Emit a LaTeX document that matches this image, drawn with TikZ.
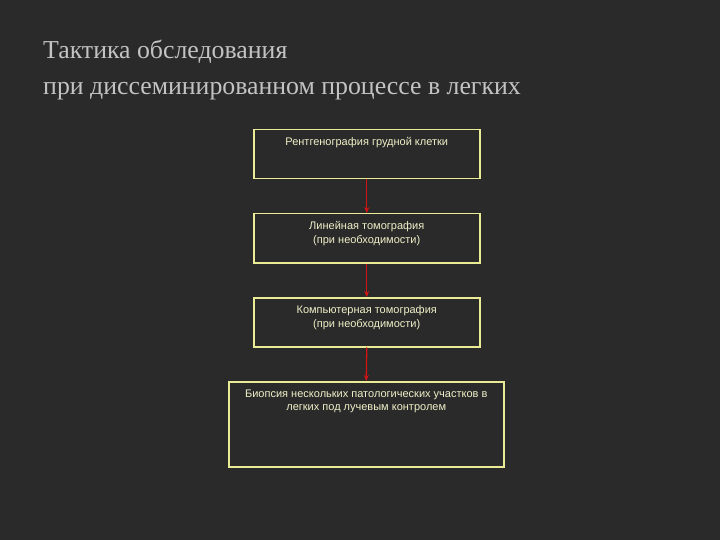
\documentclass[tikz,border=0pt]{standalone}
\usepackage{fontspec}
\setmainfont{Liberation Serif}
\newfontfamily\boxfont{Liberation Sans}
\usetikzlibrary{arrows.meta}
\definecolor{bg}{RGB}{42,42,42}
\definecolor{bord}{RGB}{235,235,150}
\definecolor{btxt}{RGB}{240,240,200}
\definecolor{ttl}{RGB}{195,195,195}
\definecolor{arrc}{RGB}{210,20,20}
\begin{document}
\begin{tikzpicture}[x=1pt,y=-1pt,
  stepbox/.style={draw=bord,line width=1.5pt,minimum height=#1,anchor=north west,inner sep=0pt},
  boxtxt/.style={font=\boxfont\fontsize{11}{13.5}\selectfont,text=btxt,align=center,anchor=north},
  arr/.style={draw=arrc,line width=1.3pt,-{Stealth[length=6pt,width=5pt]}}]
\fill[bg] (0,0) rectangle (720,540);
\node[anchor=west,font=\fontsize{25.8}{36}\selectfont,text=ttl,align=left,inner sep=0pt] (t) at (43,70) {Тактика обследования\\при диссеминированном процессе в легких};
\node[stepbox=49pt,minimum width=226pt] (a) at (253,129) {};
\node[stepbox=49pt,minimum width=226pt] (b) at (253,213) {};
\node[stepbox=49pt,minimum width=226pt] (c) at (253,297) {};
\node[stepbox=85pt,minimum width=275pt] (d) at (228,381) {};
\node[boxtxt] (ta) at ([yshift=-5pt]a.north) {Рентгенография грудной клетки};
\node[boxtxt] (tb) at ([yshift=-5pt]b.north) {Линейная томография\\(при необходимости)};
\node[boxtxt] (tc) at ([yshift=-5pt]c.north) {Компьютерная томография\\(при необходимости)};
\node[boxtxt] (td) at ([yshift=-5pt]d.north) {Биопсия нескольких патологических участков в\\легких под лучевым контролем};
\draw[arr] (a.south) -- (b.north);
\draw[arr] (b.south) -- (c.north);
\draw[arr] (c.south) -- (d.north);
\end{tikzpicture}
\end{document}
